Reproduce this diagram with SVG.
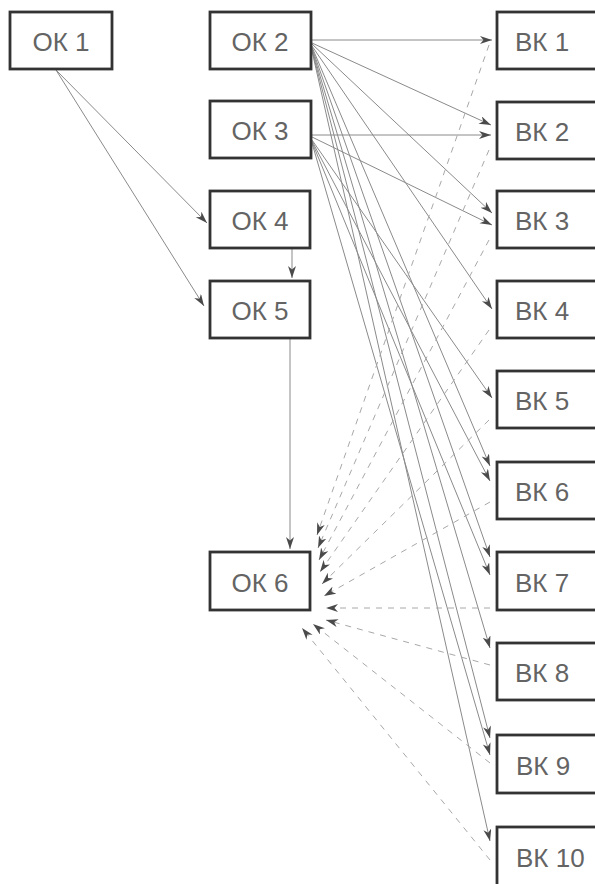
<svg xmlns="http://www.w3.org/2000/svg" width="595" height="884" viewBox="0 0 595 884">
<style>
.box{fill:#fff;stroke:#333;stroke-width:2.8}
.lbl{font-family:"Liberation Sans",Arial,sans-serif;font-size:26px;fill:#646464}
.ok{text-anchor:middle}
.sol{stroke:#8a8a8a;stroke-width:1;fill:none;marker-end:url(#ah)}
.dsh{stroke:#a8a8a8;stroke-width:1;fill:none;stroke-dasharray:6 6;marker-end:url(#ah)}
</style>
<defs>
<marker id="ah" markerUnits="userSpaceOnUse" markerWidth="13" markerHeight="9" refX="12" refY="4" orient="auto">
<path d="M0,0 L12,4 L0,8 L3.5,4 z" fill="#4a4a4a"/>
</marker>
</defs>
<rect width="595" height="884" fill="#fff"/>
<g id="connectors">
<line class="sol" x1="56" y1="70" x2="207" y2="223"/>
<line class="sol" x1="56" y1="70" x2="204" y2="306"/>
<line class="sol" x1="292" y1="249" x2="292" y2="278"/>
<line class="sol" x1="290" y1="339" x2="290" y2="549"/>
<line class="sol" x1="312" y1="40" x2="492" y2="40"/>
<line class="sol" x1="312" y1="43" x2="491" y2="125"/>
<line class="sol" x1="312" y1="135" x2="491" y2="135"/>
<line class="sol" x1="312" y1="44" x2="492" y2="213"/>
<line class="sol" x1="312" y1="137" x2="492" y2="225"/>
<line class="sol" x1="312" y1="46" x2="492" y2="309"/>
<line class="sol" x1="312" y1="140" x2="492" y2="398"/>
<line class="sol" x1="312" y1="47" x2="490" y2="466"/>
<line class="sol" x1="312" y1="141" x2="490" y2="481"/>
<line class="sol" x1="312" y1="48" x2="490" y2="557"/>
<line class="sol" x1="312" y1="142" x2="490" y2="575"/>
<line class="sol" x1="312" y1="49" x2="490" y2="648"/>
<line class="sol" x1="312" y1="50" x2="490" y2="738"/>
<line class="sol" x1="312" y1="143" x2="490" y2="755"/>
<line class="sol" x1="312" y1="51" x2="490" y2="841"/>
<line class="dsh" x1="489" y1="45" x2="317" y2="535"/>
<line class="dsh" x1="489" y1="150" x2="318" y2="548"/>
<line class="dsh" x1="489" y1="240" x2="319" y2="560"/>
<line class="dsh" x1="489" y1="330" x2="320" y2="572"/>
<line class="dsh" x1="489" y1="420" x2="322" y2="584"/>
<line class="dsh" x1="490" y1="502" x2="324" y2="596"/>
<line class="dsh" x1="490" y1="608" x2="326" y2="608"/>
<line class="dsh" x1="490" y1="665" x2="326" y2="620"/>
<line class="dsh" x1="490" y1="763" x2="313" y2="624"/>
<line class="dsh" x1="490" y1="860" x2="302" y2="628"/>
</g>
<g id="ok1"><rect class="box" x="10" y="12" width="102" height="57"/><text class="lbl ok" x="61" y="51">ОК 1</text></g>
<g id="ok2"><rect class="box" x="210" y="12" width="101" height="57"/><text class="lbl ok" x="260" y="51">ОК 2</text></g>
<g id="ok3"><rect class="box" x="210" y="101" width="101" height="57"/><text class="lbl ok" x="260" y="140">ОК 3</text></g>
<g id="ok4"><rect class="box" x="210" y="191" width="100" height="57"/><text class="lbl ok" x="260" y="230">ОК 4</text></g>
<g id="ok5"><rect class="box" x="210" y="281" width="100" height="57"/><text class="lbl ok" x="260" y="320">ОК 5</text></g>
<g id="ok6"><rect class="box" x="210" y="552" width="100" height="58"/><text class="lbl ok" x="260" y="592">ОК 6</text></g>
<g id="bk1"><rect class="box" x="497" y="12" width="110" height="57"/><text class="lbl" x="515" y="51">ВК 1</text></g>
<g id="bk2"><rect class="box" x="497" y="102" width="110" height="57"/><text class="lbl" x="515" y="141">ВК 2</text></g>
<g id="bk3"><rect class="box" x="497" y="191" width="110" height="57"/><text class="lbl" x="515" y="230">ВК 3</text></g>
<g id="bk4"><rect class="box" x="497" y="281" width="110" height="57"/><text class="lbl" x="515" y="320">ВК 4</text></g>
<g id="bk5"><rect class="box" x="497" y="371" width="110" height="57"/><text class="lbl" x="515" y="410">ВК 5</text></g>
<g id="bk6"><rect class="box" x="497" y="462" width="110" height="57"/><text class="lbl" x="515" y="501">ВК 6</text></g>
<g id="bk7"><rect class="box" x="497" y="552" width="110" height="58"/><text class="lbl" x="515" y="592">ВК 7</text></g>
<g id="bk8"><rect class="box" x="497" y="643" width="110" height="57"/><text class="lbl" x="515" y="682">ВК 8</text></g>
<g id="bk9"><rect class="box" x="497" y="735" width="110" height="58"/><text class="lbl" x="516" y="775">ВК 9</text></g>
<g id="bk10"><rect class="box" x="497" y="827" width="110" height="60"/><text class="lbl" x="516" y="867">ВК 10</text></g>
</svg>
